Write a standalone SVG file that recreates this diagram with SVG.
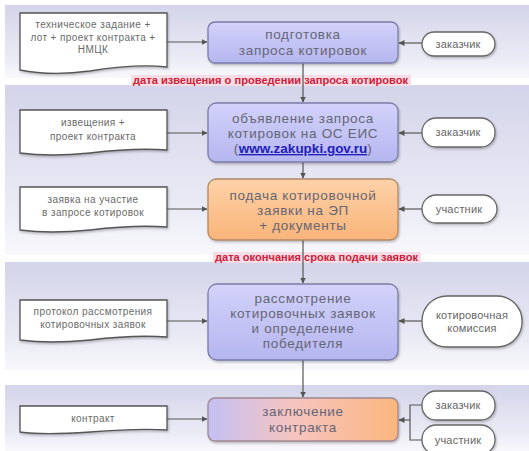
<svg xmlns="http://www.w3.org/2000/svg" width="529" height="451" viewBox="0 0 529 451">
<defs>
<linearGradient id="band" x1="0" y1="0" x2="0" y2="1">
<stop offset="0" stop-color="#d4d4ea"/>
<stop offset="0.75" stop-color="#ececf6"/>
<stop offset="1" stop-color="#f8f8fc"/>
</linearGradient>
<linearGradient id="blue" x1="0" y1="0" x2="0" y2="1">
<stop offset="0" stop-color="#d2d2fa"/>
<stop offset="1" stop-color="#b6b6f0"/>
</linearGradient>
<linearGradient id="orange" x1="0" y1="0" x2="0" y2="1">
<stop offset="0" stop-color="#fdd2a8"/>
<stop offset="1" stop-color="#f9b47a"/>
</linearGradient>
<linearGradient id="mix" x1="0" y1="0" x2="1" y2="0">
<stop offset="0" stop-color="#c4c0f4"/>
<stop offset="0.45" stop-color="#f6c4c0"/>
<stop offset="1" stop-color="#fbb67e"/>
</linearGradient>
<marker id="arr" viewBox="0 0 6 6" refX="5.5" refY="3" markerWidth="5" markerHeight="5" orient="auto">
<path d="M0,0 L6,3 L0,6 Z" fill="#555"/>
</marker>
<filter id="sh" x="-10%" y="-10%" width="120%" height="130%">
<feDropShadow dx="1" dy="1.5" stdDeviation="1" flood-color="#000" flood-opacity="0.25"/>
</filter>
</defs>
<style>
.doc{fill:#fff;stroke:#555;stroke-width:1.3;filter:url(#sh)}
.box{stroke:#7c7ca8;stroke-width:1.3;filter:url(#sh)}
.term{fill:#fff;stroke:#666;stroke-width:1.3;filter:url(#sh)}
.dt{font-family:"Liberation Sans",Arial,sans-serif;font-size:10px;letter-spacing:0.4px;fill:#6a6a6a;text-anchor:middle}
.bt{font-family:"Liberation Sans",Arial,sans-serif;font-size:13.5px;letter-spacing:0.7px;fill:#666674;text-anchor:middle}
.tt{font-family:"Liberation Sans",Arial,sans-serif;font-size:11px;letter-spacing:0.2px;fill:#666;text-anchor:middle}
.red{font-family:"Liberation Sans",Arial,sans-serif;font-size:10px;font-weight:bold;fill:#d0203a}
.ln{fill:none;stroke:#555;stroke-width:1.2}
.url{fill:#2020b8;font-weight:bold;text-decoration:underline;letter-spacing:0}
</style>
<rect width="529" height="451" fill="#fff"/>
<g id="bands">
<rect x="5" y="5" width="524" height="73" fill="url(#band)"/>
<rect x="5" y="85" width="524" height="170" fill="url(#band)"/>
<rect x="5" y="262" width="524" height="108" fill="url(#band)"/>
<rect x="5" y="385" width="524" height="66" fill="url(#band)"/>
</g>
<g id="labels">
<rect x="131" y="75" width="280" height="11" fill="#f6dce4"/>
<text class="red" x="133" y="84" textLength="275" lengthAdjust="spacingAndGlyphs">дата извещения о проведении запроса котировок</text>
<rect x="213" y="252" width="208" height="11" fill="#f6dce4"/>
<text class="red" x="215" y="261" textLength="203" lengthAdjust="spacingAndGlyphs">дата окончания срока подачи заявок</text>
</g>
<g id="connectors">
<line class="ln" x1="167" y1="42" x2="207" y2="42" marker-end="url(#arr)"/>
<line class="ln" x1="422" y1="43" x2="399" y2="43" marker-end="url(#arr)"/>
<line class="ln" x1="303" y1="63" x2="303" y2="102" marker-end="url(#arr)"/>
<line class="ln" x1="167" y1="133" x2="207" y2="133" marker-end="url(#arr)"/>
<line class="ln" x1="422" y1="133" x2="399" y2="133" marker-end="url(#arr)"/>
<line class="ln" x1="303" y1="162" x2="303" y2="178" marker-end="url(#arr)"/>
<line class="ln" x1="167" y1="209" x2="207" y2="209" marker-end="url(#arr)"/>
<line class="ln" x1="422" y1="209" x2="399" y2="209" marker-end="url(#arr)"/>
<line class="ln" x1="303" y1="240" x2="303" y2="283" marker-end="url(#arr)"/>
<line class="ln" x1="167" y1="321" x2="207" y2="321" marker-end="url(#arr)"/>
<line class="ln" x1="422" y1="321" x2="399" y2="321" marker-end="url(#arr)"/>
<line class="ln" x1="303" y1="360" x2="303" y2="397" marker-end="url(#arr)"/>
<line class="ln" x1="167" y1="419" x2="207" y2="419" marker-end="url(#arr)"/>
<path class="ln" d="M422,405 H410 V440 H422"/>
<line class="ln" x1="410" y1="420" x2="399" y2="420" marker-end="url(#arr)"/>
</g>
<g id="doc1">
<path class="doc" d="M20,13 H167 V67 C140,64 115,67 90,71 C60,75 35,73 20,70 Z"/>
<text class="dt" x="93" y="28">техническое задание +</text>
<text class="dt" x="93" y="41">лот + проект контракта +</text>
<text class="dt" x="93" y="53">НМЦК</text>
</g>
<g id="box1">
<rect class="box" x="208" y="22" width="190" height="41" rx="7" fill="url(#blue)"/>
<text class="bt" x="303" y="39">подготовка</text>
<text class="bt" x="303" y="55">запроса котировок</text>
</g>
<g id="term1">
<rect class="term" x="422" y="32" width="73" height="24" rx="12"/>
<text class="tt" x="458" y="48">заказчик</text>
</g>
<g id="doc2">
<path class="doc" d="M20,110 H167 V150 C140,148 115,150 90,153 C60,156 35,155 20,153 Z"/>
<text class="dt" x="93" y="126">извещения +</text>
<text class="dt" x="93" y="140">проект контракта</text>
</g>
<g id="box2">
<rect class="box" x="208" y="103" width="190" height="59" rx="8" fill="url(#blue)"/>
<text class="bt" x="303" y="123">объявление запроса</text>
<text class="bt" x="303" y="138">котировок на ОС ЕИС</text>
<text class="bt" x="303" y="153">(<tspan class="url">www.zakupki.gov.ru</tspan>)</text>
</g>
<g id="term2">
<rect class="term" x="422" y="118" width="73" height="29" rx="14"/>
<text class="tt" x="458" y="136">заказчик</text>
</g>
<g id="doc3">
<path class="doc" d="M20,187 H167 V227 C140,225 115,227 90,230 C60,233 35,232 20,230 Z"/>
<text class="dt" x="93" y="203">заявка на участие</text>
<text class="dt" x="93" y="216">в запросе котировок</text>
</g>
<g id="box3">
<rect class="box" x="208" y="179" width="190" height="61" rx="8" fill="url(#orange)" style="stroke:#b08868"/>
<text class="bt" x="303" y="200">подача котировочной</text>
<text class="bt" x="303" y="215">заявки на ЭП</text>
<text class="bt" x="303" y="230">+ документы</text>
</g>
<g id="term3">
<rect class="term" x="422" y="195" width="75" height="28" rx="14"/>
<text class="tt" x="459" y="213">участник</text>
</g>
<g id="doc4">
<path class="doc" d="M20,300 H167 V337 C140,335 115,337 90,340 C60,343 35,342 20,340 Z"/>
<text class="dt" x="93" y="315">протокол рассмотрения</text>
<text class="dt" x="93" y="328">котировочных заявок</text>
</g>
<g id="box4">
<rect class="box" x="208" y="284" width="190" height="76" rx="9" fill="url(#blue)"/>
<text class="bt" x="303" y="303">рассмотрение</text>
<text class="bt" x="303" y="318">котировочных заявок</text>
<text class="bt" x="303" y="333">и определение</text>
<text class="bt" x="303" y="348">победителя</text>
</g>
<g id="term4">
<rect class="term" x="422" y="296" width="100" height="51" rx="25"/>
<text class="tt" x="472" y="319">котировочная</text>
<text class="tt" x="472" y="332">комиссия</text>
</g>
<g id="doc5">
<path class="doc" d="M20,406 H167 V430 C140,428 115,430 90,432 C60,434 35,434 20,432 Z"/>
<text class="dt" x="93" y="422">контракт</text>
</g>
<g id="box5">
<rect class="box" x="208" y="398" width="190" height="43" rx="7" fill="url(#mix)" style="stroke:#a08890"/>
<text class="bt" x="303" y="416">заключение</text>
<text class="bt" x="303" y="432">контракта</text>
</g>
<g id="term5">
<rect class="term" x="422" y="391" width="73" height="29" rx="14"/>
<text class="tt" x="458" y="409">заказчик</text>
</g>
<g id="term6">
<rect class="term" x="422" y="425" width="73" height="29" rx="14"/>
<text class="tt" x="458" y="444">участник</text>
</g>
</svg>
